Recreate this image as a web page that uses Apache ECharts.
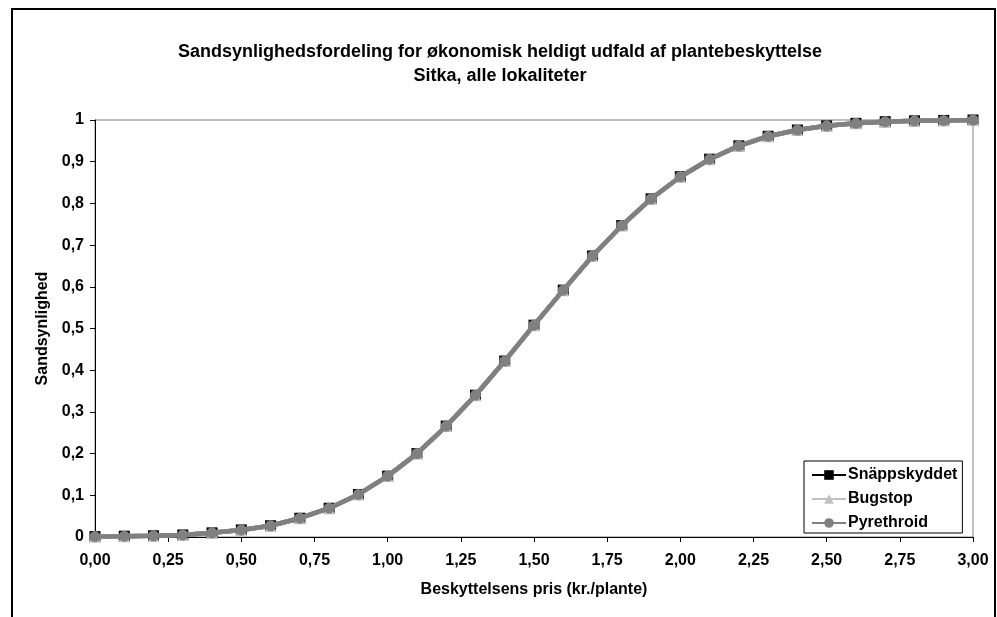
<!DOCTYPE html>
<html>
<head>
<meta charset="utf-8">
<title>Sandsynlighedsfordeling</title>
<script src="https://cdn.jsdelivr.net/npm/echarts@6/dist/echarts.min.js"></script>
<style>
  html, body { margin: 0; padding: 0; background: #fff; }
  #chart { width: 997px; height: 617px; }
</style>
</head>
<body>
<div id="chart"></div>
<script>
// Beskyttelsens pris (kr./plante)
const prices = [0.0, 0.1, 0.2, 0.3, 0.4, 0.5, 0.6, 0.7, 0.8, 0.9, 1.0,
                1.1, 1.2, 1.3, 1.4, 1.5, 1.6, 1.7, 1.8, 1.9, 2.0,
                2.1, 2.2, 2.3, 2.4, 2.5, 2.6, 2.7, 2.8, 2.9, 3.0];

// Sandsynlighed for økonomisk heldigt udfald, pr. middel
const snappskyddet = [0.001, 0.002, 0.003, 0.005, 0.010, 0.017, 0.027, 0.045, 0.069, 0.102, 0.146,
                      0.200, 0.266, 0.340, 0.422, 0.508, 0.592, 0.674, 0.747, 0.811, 0.864,
                      0.906, 0.938, 0.961, 0.976, 0.986, 0.992, 0.996, 0.998, 0.999, 1.000];
const bugstop      = [0.001, 0.002, 0.003, 0.005, 0.010, 0.017, 0.027, 0.045, 0.069, 0.102, 0.146,
                      0.200, 0.266, 0.340, 0.422, 0.508, 0.592, 0.674, 0.747, 0.811, 0.864,
                      0.906, 0.938, 0.961, 0.976, 0.986, 0.992, 0.996, 0.998, 0.999, 1.000];
const pyrethroid   = [0.001, 0.002, 0.003, 0.005, 0.010, 0.017, 0.027, 0.045, 0.069, 0.102, 0.146,
                      0.200, 0.266, 0.340, 0.422, 0.508, 0.592, 0.674, 0.747, 0.811, 0.864,
                      0.906, 0.938, 0.961, 0.976, 0.986, 0.992, 0.996, 0.998, 0.999, 1.000];

const seriesNames = ['Snäppskyddet', 'Bugstop', 'Pyrethroid'];
const xTickStep = 0.25;
const yTickStep = 0.1;

const FONT = '"Liberation Sans", Arial, sans-serif';

function pairs(values) {
  return prices.map((p, i) => [p, values[i]]);
}

function commaDecimal(v, digits) {
  return v.toFixed(digits).replace('.', ',');
}

const chart = echarts.init(document.getElementById('chart'), null, { renderer: 'canvas' });

chart.setOption({
  backgroundColor: '#ffffff',
  animation: false,
  textStyle: { fontFamily: FONT },
  graphic: [{
    type: 'rect',
    shape: { x: 12, y: 9, width: 983, height: 700 },
    style: { fill: 'none', stroke: '#000', lineWidth: 2 },
    silent: true
  }],
  title: {
    text: 'Sandsynlighedsfordeling for økonomisk heldigt udfald af plantebeskyttelse\nSitka, alle lokaliteter',
    left: 495,
    textAlign: 'center',
    top: 35,
    textStyle: { fontFamily: FONT, fontWeight: 'bold', fontSize: 18, color: '#000', lineHeight: 24 }
  },
  legend: {
    orient: 'vertical',
    left: 804,
    top: 461,
    data: seriesNames,
    backgroundColor: '#fff',
    borderColor: '#000',
    borderWidth: 1,
    padding: [5, 5, 1, 7],
    itemWidth: 34,
    itemHeight: 12,
    itemGap: 6,
    textStyle: { fontFamily: FONT, fontWeight: 'bold', fontSize: 16, color: '#000', lineHeight: 18, padding: [0, 0, 0, -3] }
  },
  grid: {
    left: 95, right: 24, top: 120, bottom: 80,
    show: true, borderColor: '#808080', borderWidth: 1,
    containLabel: false
  },
  xAxis: {
    type: 'value',
    min: 0, max: 3, interval: xTickStep,
    name: 'Beskyttelsens pris (kr./plante)',
    nameLocation: 'middle',
    nameGap: 45,
    nameTextStyle: { fontFamily: FONT, fontWeight: 'bold', fontSize: 16, color: '#000' },
    axisLine: { show: true, lineStyle: { color: '#000', width: 1 } },
    axisTick: { show: true, length: 5, inside: false, lineStyle: { color: '#000' } },
    axisLabel: {
      margin: 16, color: '#000', fontFamily: FONT, fontWeight: 'bold', fontSize: 16,
      formatter: v => commaDecimal(v, 2)
    },
    splitLine: { show: false }
  },
  yAxis: {
    type: 'value',
    min: 0, max: 1, interval: yTickStep,
    name: 'Sandsynlighed',
    nameLocation: 'middle',
    nameRotate: 90,
    nameGap: 39,
    nameTextStyle: { fontFamily: FONT, fontWeight: 'bold', fontSize: 16, color: '#000' },
    axisLine: { show: true, lineStyle: { color: '#000', width: 1 } },
    axisTick: { show: true, length: 5, inside: false, lineStyle: { color: '#000' } },
    axisLabel: {
      margin: 11, color: '#000', fontFamily: FONT, fontWeight: 'bold', fontSize: 16,
      formatter: v => (v === 0 ? '0' : (Math.abs(v - 1) < 1e-9 ? '1' : commaDecimal(v, 1)))
    },
    splitLine: { show: false }
  },
  series: [
    {
      name: seriesNames[0], type: 'line', data: pairs(snappskyddet),
      symbol: 'rect', symbolSize: 11, showAllSymbol: true,
      itemStyle: { color: '#000000' },
      lineStyle: { color: '#000000', width: 4.5 },
      z: 2
    },
    {
      name: seriesNames[1], type: 'line', data: pairs(bugstop),
      symbol: 'triangle', symbolSize: 12, showAllSymbol: true,
      itemStyle: { color: '#c0c0c0' },
      lineStyle: { color: '#c0c0c0', width: 4.5 },
      z: 3
    },
    {
      name: seriesNames[2], type: 'line', data: pairs(pyrethroid),
      symbol: 'circle', symbolSize: 11, showAllSymbol: true,
      itemStyle: { color: '#808080' },
      lineStyle: { color: '#808080', width: 4.5 },
      z: 4
    }
  ]
});
</script>
</body>
</html>
